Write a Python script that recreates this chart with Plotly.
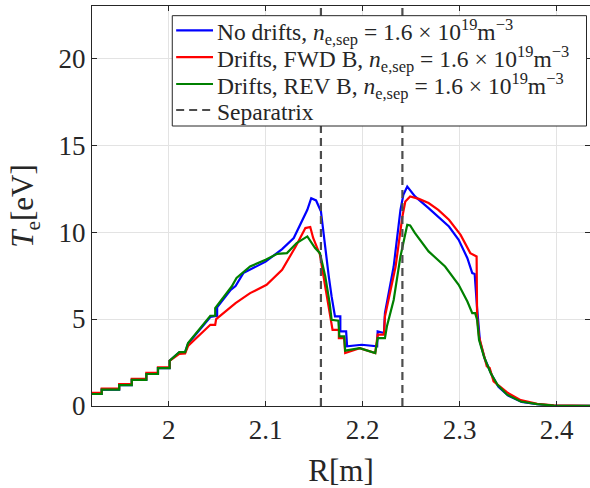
import plotly.graph_objects as go

# ---- data ----
R_nodrift = [1.921, 1.931, 1.931, 1.949, 1.949, 1.962, 1.962, 1.977, 1.977, 1.989, 1.989, 2.001, 2.001,
             2.011, 2.017, 2.020, 2.043, 2.050, 2.050, 2.064, 2.069, 2.077, 2.100, 2.117, 2.129, 2.143,
             2.147, 2.152, 2.157, 2.161, 2.165, 2.168, 2.1715, 2.177, 2.177, 2.183, 2.184, 2.199, 2.215,
             2.2155, 2.222, 2.223, 2.232, 2.239, 2.242, 2.246, 2.254, 2.268, 2.278, 2.289, 2.299, 2.308,
             2.313, 2.3155, 2.318, 2.321, 2.326, 2.333, 2.340, 2.350, 2.364, 2.380, 2.397, 2.440]
Te_nodrift = [0.69, 0.69, 0.94, 0.94, 1.20, 1.20, 1.50, 1.50, 1.84, 1.84, 2.18, 2.18, 2.60,
              3.08, 3.10, 3.58, 5.12, 5.19, 5.67, 6.68, 6.90, 7.64, 8.30, 9.02, 9.66, 11.28,
              11.95, 11.82, 11.20, 9.20, 7.50, 6.30, 5.15, 5.15, 4.29, 4.29, 3.43, 3.52, 3.43,
              4.29, 4.20, 5.34, 8.02, 11.28, 12.14, 12.62, 12.05, 11.38, 10.90, 10.32, 9.56, 8.50,
              7.64, 7.59, 5.63, 3.71, 2.70, 1.80, 1.10, 0.60, 0.24, 0.10, 0.03, 0.0]

R_fwd = [1.921, 1.931, 1.931, 1.949, 1.949, 1.962, 1.962, 1.977, 1.977, 1.989, 1.989, 2.001, 2.001,
         2.011, 2.017, 2.020, 2.043, 2.048, 2.049, 2.064, 2.069, 2.084, 2.101, 2.117, 2.131, 2.141,
         2.146, 2.149, 2.156, 2.162, 2.166, 2.167, 2.169, 2.1755, 2.1755, 2.181, 2.182, 2.197, 2.213,
         2.2155, 2.222, 2.223, 2.234, 2.241, 2.244, 2.249, 2.258, 2.268, 2.278, 2.289, 2.301, 2.311,
         2.316, 2.3175, 2.318, 2.320, 2.328, 2.331, 2.335, 2.349, 2.363, 2.380, 2.397, 2.440]
Te_fwd = [0.75, 0.75, 1.00, 1.00, 1.26, 1.26, 1.56, 1.56, 1.90, 1.90, 2.22, 2.22, 2.60,
          3.00, 3.02, 3.45, 4.67, 4.67, 5.00, 5.72, 5.92, 6.49, 6.97, 7.83, 9.17, 10.23,
          10.29, 9.66, 8.70, 6.68, 5.25, 5.00, 4.38, 4.38, 3.90, 3.90, 3.05, 3.33, 3.05,
          4.10, 4.10, 5.15, 8.02, 10.90, 11.76, 12.05, 11.91, 11.67, 11.28, 10.71, 9.84, 8.79,
          8.66, 8.60, 5.13, 4.00, 2.28, 2.18, 1.41, 0.78, 0.34, 0.13, 0.04, 0.0]

R_rev = [1.921, 1.931, 1.931, 1.949, 1.949, 1.962, 1.962, 1.977, 1.977, 1.989, 1.989, 2.001, 2.001,
         2.011, 2.017, 2.020, 2.043, 2.048, 2.048, 2.065, 2.070, 2.084, 2.100, 2.112, 2.122, 2.132,
         2.143, 2.151, 2.156, 2.1615, 2.166, 2.168, 2.175, 2.176, 2.181, 2.182, 2.197, 2.213,
         2.2155, 2.223, 2.225, 2.232, 2.239, 2.246, 2.249, 2.254, 2.268, 2.285, 2.299, 2.308,
         2.313, 2.316, 2.318, 2.320, 2.325, 2.332, 2.339, 2.349, 2.363, 2.380, 2.397, 2.440]
Te_rev = [0.69, 0.69, 0.94, 0.94, 1.20, 1.20, 1.50, 1.50, 1.84, 1.84, 2.18, 2.18, 2.60,
          3.10, 3.10, 3.62, 5.19, 5.19, 5.63, 6.87, 7.36, 8.02, 8.41, 8.75, 8.79, 9.37,
          9.75, 9.08, 8.79, 7.45, 5.92, 4.96, 4.90, 4.00, 4.00, 3.18, 3.33, 3.05,
          3.90, 3.90, 4.57, 6.10, 8.60, 10.42, 10.38, 9.94, 8.89, 8.02, 6.97, 6.01,
          5.34, 5.34, 4.96, 3.81, 2.85, 1.90, 1.22, 0.65, 0.26, 0.11, 0.03, 0.0]

separatrix_R = [2.157, 2.241]

names = [
    "No drifts, <i>n</i><sub>e,sep</sub> = 1.6 × 10<sup>19</sup>m<sup>−3</sup>",
    "Drifts, FWD B, <i>n</i><sub>e,sep</sub> = 1.6 × 10<sup>19</sup>m<sup>−3</sup>",
    "Drifts, REV B, <i>n</i><sub>e,sep</sub> = 1.6 × 10<sup>19</sup>m<sup>−3</sup>",
    "Separatrix",
]
colors = ["#0000ff", "#ff0000", "#008000"]
sep_color = "#4d4d4d"

x_ticks = [2.0, 2.1, 2.2, 2.3, 2.4]
x_ticklabels = ["2", "2.1", "2.2", "2.3", "2.4"]
y_ticks = [0, 5, 10, 15, 20]

FONT = "Liberation Serif"
INK = "#262626"

fig = go.Figure()
for R, Te, nm, c in zip([R_nodrift, R_fwd, R_rev], [Te_nodrift, Te_fwd, Te_rev], names[:3], colors):
    fig.add_trace(go.Scatter(x=R, y=Te, mode="lines", name=nm,
                             line=dict(color=c, width=2.2)))

sx, sy = [], []
for r in separatrix_R:
    sx += [r, r, None]
    sy += [0, 23, None]
fig.add_trace(go.Scatter(x=sx, y=sy, mode="lines", name=names[3],
                         line=dict(color=sep_color, width=2.2, dash="8px,5px")))

# ---- hand-drawn legend box (paper coordinates) ----
box = dict(x0=0.1612, x1=0.993, y0=0.70, y1=0.9758)
row_y = [0.939, 0.872, 0.805, 0.740]
line_x0, line_x1, text_x = 0.169, 0.243, 0.249
fig.add_shape(type="rect", xref="paper", yref="paper", **box,
              line=dict(color=INK, width=1), fillcolor="white", layer="above")
for i, nm in enumerate(names):
    if i < 3:
        ln = dict(color=colors[i], width=2.2)
    else:
        ln = dict(color=sep_color, width=2.2, dash="8px,5px")
    fig.add_shape(type="line", xref="paper", yref="paper", x0=line_x0, x1=line_x1,
                  y0=row_y[i], y1=row_y[i], line=ln, layer="above")
    fig.add_annotation(xref="paper", yref="paper", x=text_x, y=row_y[i] - 0.004,
                       xanchor="left", yanchor="middle", text=nm, showarrow=False,
                       borderpad=0,
                       font=dict(family=FONT, size=23.5, color=INK))

axis_common = dict(showline=True, linecolor=INK, linewidth=1, mirror="ticks",
                   ticks="inside", ticklen=5, tickcolor=INK,
                   showgrid=True, gridcolor="#e3e3e3", gridwidth=1, zeroline=False,
                   automargin=False,
                   tickfont=dict(family=FONT, size=27, color=INK))

fig.update_layout(
    width=590, height=488,
    margin=dict(l=92, r=0, t=6, b=82, autoexpand=False),
    paper_bgcolor="white", plot_bgcolor="white",
    xaxis=dict(range=[1.921, 2.4344], tickvals=x_ticks, ticktext=x_ticklabels,
               title=dict(text="R[m]", font=dict(family=FONT, size=31, color=INK)),
               **axis_common),
    yaxis=dict(range=[0, 23], tickvals=y_ticks,
               title=dict(text="<i>T</i><sub>e</sub>[eV]", font=dict(family=FONT, size=31, color=INK)),
               **axis_common),
    showlegend=False,
)

fig.write_html("out.html", config={"displayModeBar": False},
               post_script="document.body.style.margin='0';")
